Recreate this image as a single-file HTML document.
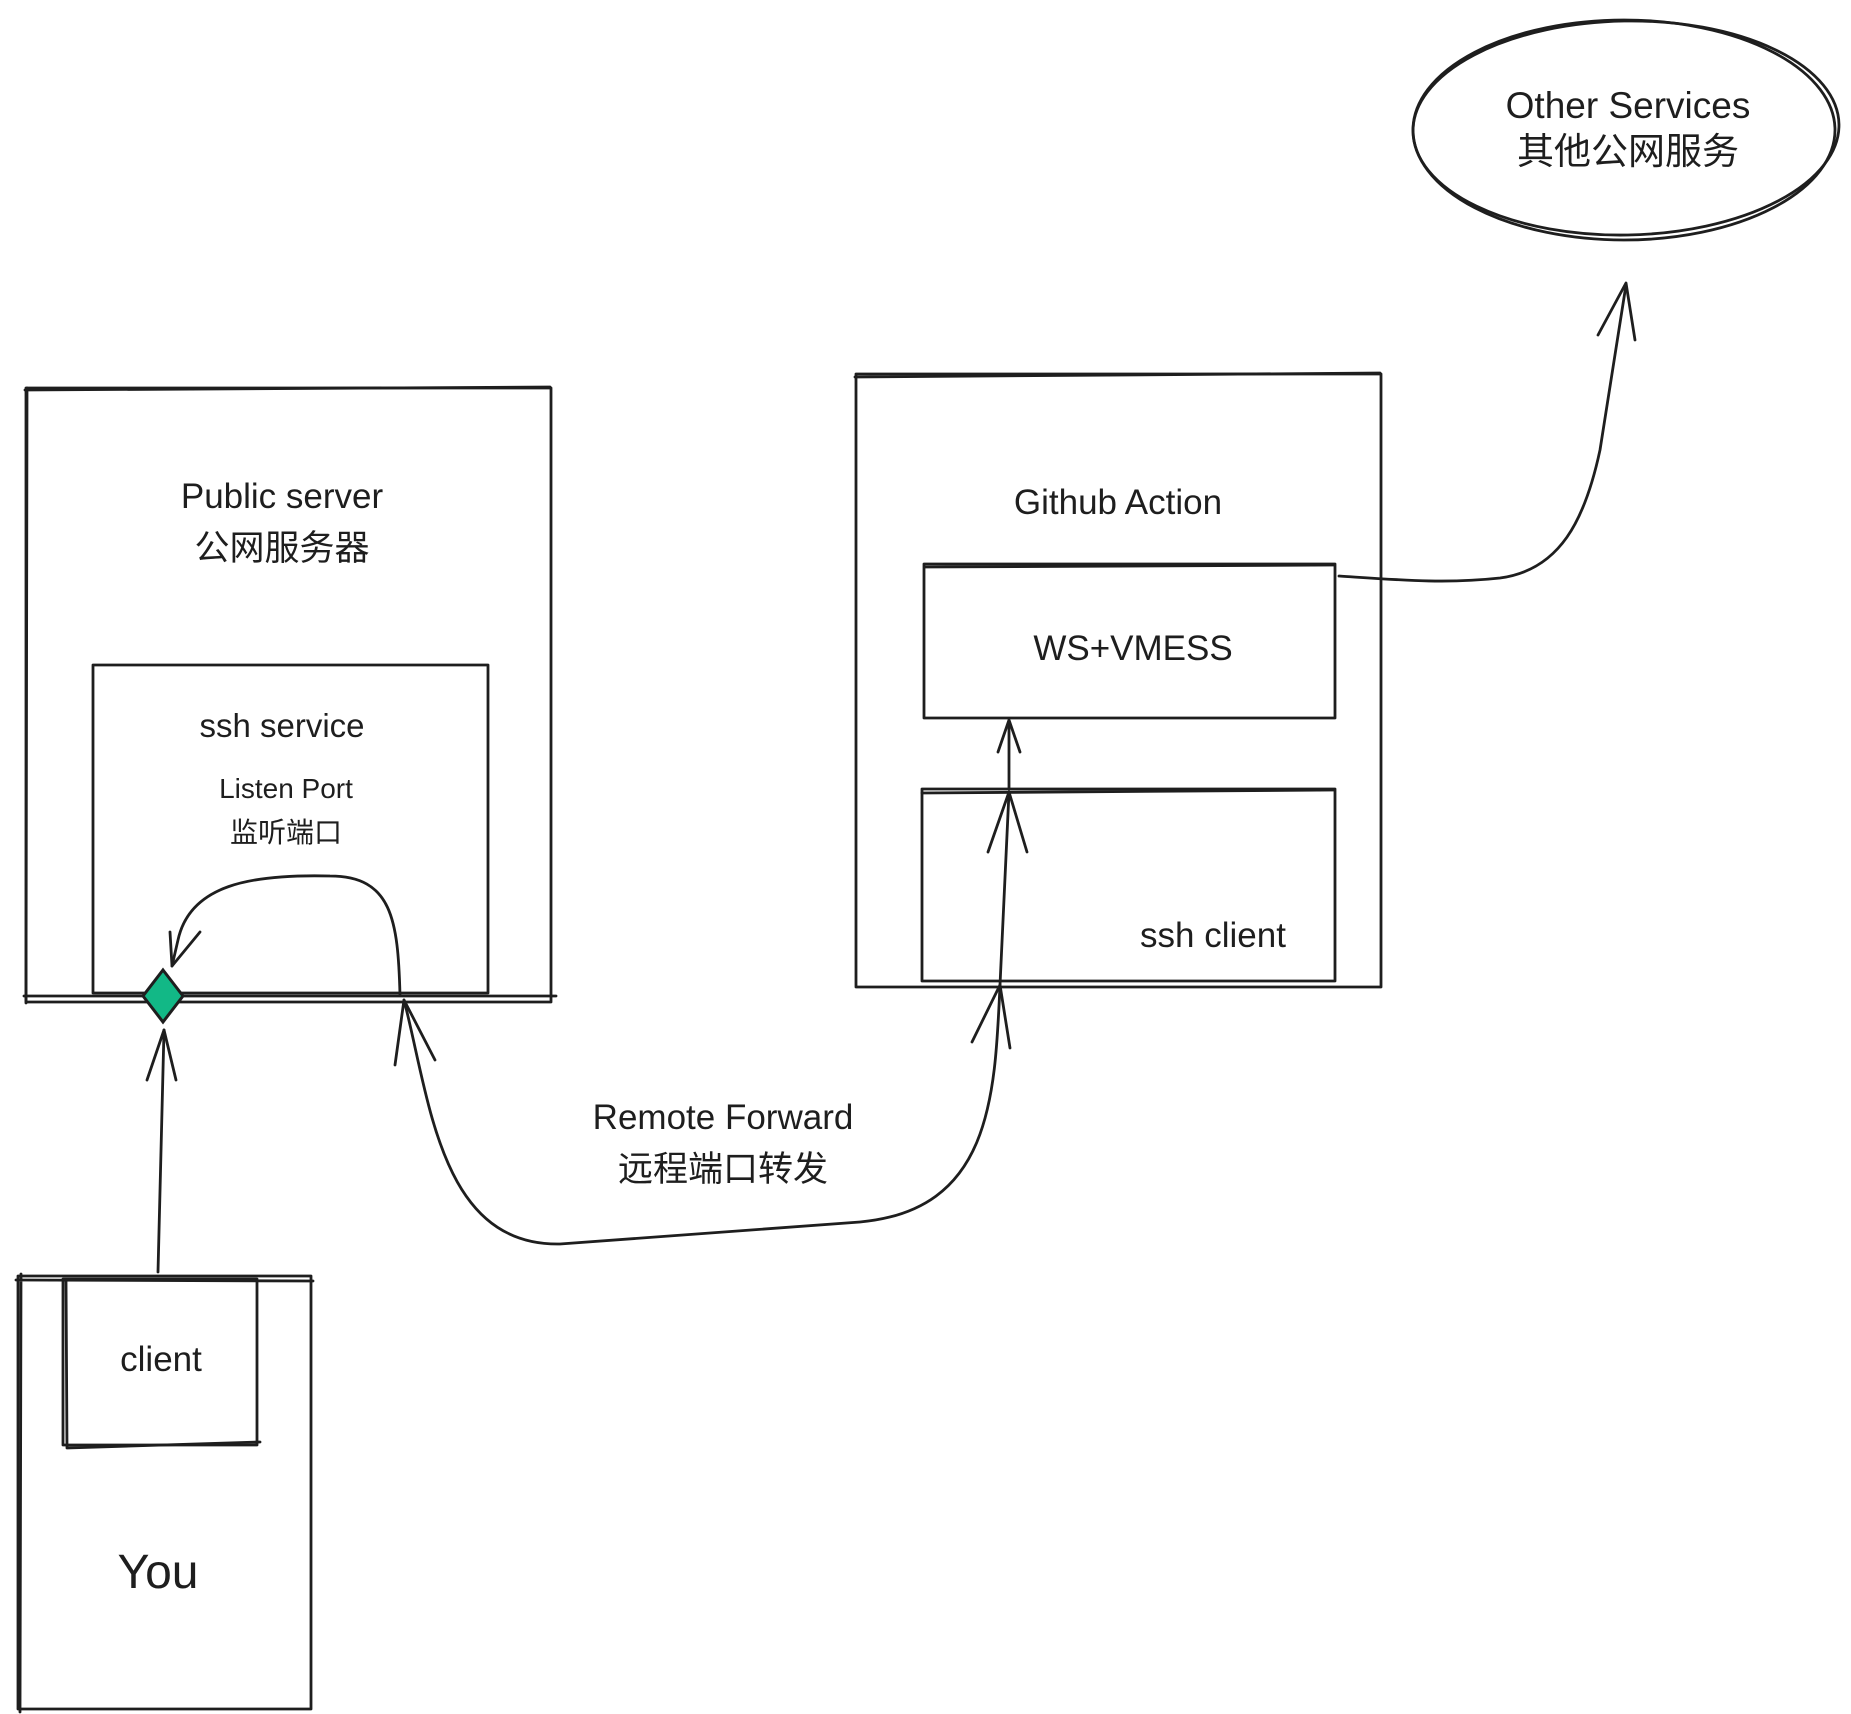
<!DOCTYPE html>
<html><head><meta charset="utf-8"><style>
html,body{margin:0;padding:0;background:#fff}
svg{display:block}
text{font-family:"Liberation Sans","Noto Sans CJK SC",sans-serif;fill:#1e1e1e;text-anchor:middle}
</style></head><body>
<svg width="1851" height="1714" viewBox="0 0 1851 1714" xmlns="http://www.w3.org/2000/svg">
<g fill="none" stroke="#1e1e1e" stroke-width="2.8" stroke-linecap="round" stroke-linejoin="round">
<path d="M26 388 L551 388 L551 1002 L26 1002 Z"/>
<path d="M25 390 L550 387 M27 388 L26 1003"/>
<path d="M24 996 L556 996"/>
<path d="M93 665 L488 665 L488 993 L93 993 Z"/>
<path d="M856 374 L1381 374 L1381 987 L856 987 Z"/>
<path d="M855 377 L1380 373"/>
<path d="M924 564 L1335 564 L1335 718 L924 718 Z"/>
<path d="M925 567 L1334 565"/>
<path d="M922 789 L1335 789 L1335 981 L922 981 Z"/>
<path d="M922 793 L1334 790"/>
<path d="M18 1276 L311 1276 L311 1709 L18 1709 Z"/>
<path d="M16 1280 L313 1281 M21 1274 L20 1712"/>
<path d="M63 1279 L257 1279 L257 1445 L63 1445 Z"/>
<path d="M66 1281 L67 1448 L260 1442"/>
<ellipse cx="1624" cy="130" rx="211" ry="110"/>
<ellipse cx="1626" cy="128" rx="213" ry="107" transform="rotate(-1 1626 128)"/>
<path d="M158 1272 L164 1030"/>
<path d="M147 1080 L164 1030 L176 1080"/>
<path d="M400 995 C398 920 392 876 330 876 C250 874 190 885 178 940 L172 966"/>
<path d="M170 932 L172 966 L200 932"/>
<path d="M404 1000 C430 1100 440 1246 560 1244 L860 1222 C990 1210 995 1100 1000 985"/>
<path d="M395 1065 L404 1000 L435 1060"/>
<path d="M972 1042 L1000 985 L1010 1048"/>
<path d="M1000 985 L1009 792"/>
<path d="M988 852 L1009 792 L1027 852"/>
<path d="M1009 789 L1009 722"/>
<path d="M998 752 L1009 720 L1020 752"/>
<path d="M1339 576 C1400 580 1445 584 1500 578 C1560 570 1585 520 1600 450 L1626 285"/>
<path d="M1598 335 L1626 283 L1635 340"/>
</g>
<path d="M163 970 L183 996 L163 1022 L143 996 Z" fill="#12b886" stroke="#1e1e1e" stroke-width="3"/>
<text x="282" y="508" font-size="35">Public server</text>
<text x="282" y="560" font-size="35">公网服务器</text>
<text x="282" y="737" font-size="33">ssh service</text>
<text x="286" y="798" font-size="28">Listen Port</text>
<text x="286" y="842" font-size="28">监听端口</text>
<text x="1118" y="514" font-size="35">Github Action</text>
<text x="1133" y="660" font-size="35">WS+VMESS</text>
<text x="1213" y="947" font-size="35">ssh client</text>
<text x="161" y="1371" font-size="35">client</text>
<text x="158" y="1588" font-size="48">You</text>
<text x="723" y="1129" font-size="35">Remote Forward</text>
<text x="723" y="1181" font-size="35">远程端口转发</text>
<text x="1628" y="118" font-size="37">Other Services</text>
<text x="1628" y="164" font-size="37">其他公网服务</text>
</svg>
</body></html>
